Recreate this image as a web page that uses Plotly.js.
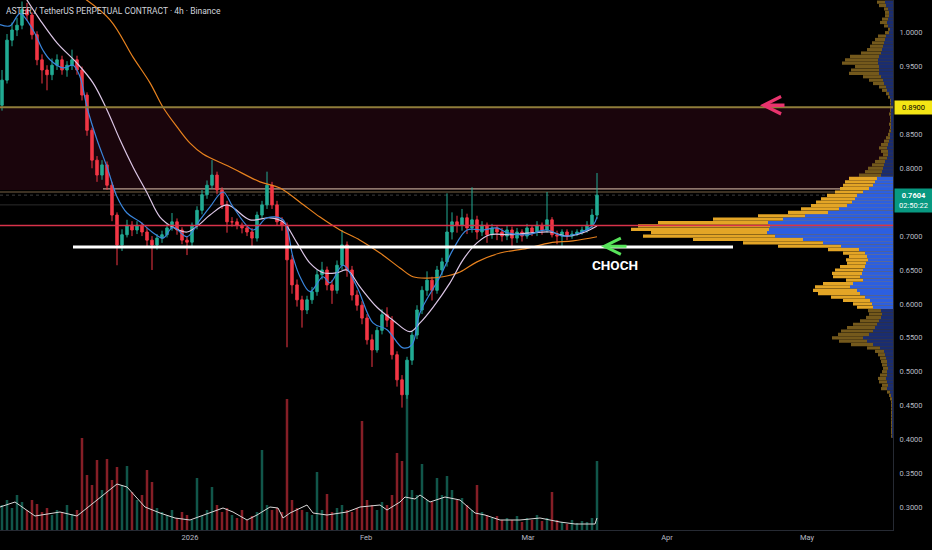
<!DOCTYPE html>
<html><head><meta charset="utf-8">
<script src="https://cdn.plot.ly/plotly-3.0.1.min.js"></script>
<style>html,body{margin:0;padding:0;background:#000;}#chart{width:932px;height:550px;}</style>
</head><body><div id="chart"></div>
<script>
// ---- Candles (4h ASTER/USDT, sampled) ----
const opens = [0.893,0.930,0.989,1.004,1.011,1.034,1.026,0.997,0.960,0.945,
 0.938,0.952,0.960,0.945,0.952,0.960,0.945,0.908,0.856,0.812,
 0.790,0.805,0.775,0.731,0.687,0.702,0.716,0.709,0.716,0.706,
 0.694,0.687,0.697,0.702,0.712,0.721,0.709,0.694,0.691,0.716,
 0.738,0.761,0.775,0.790,0.768,0.746,0.721,0.721,0.716,0.712,
 0.706,0.697,0.731,0.746,0.775,0.746,0.721,0.716,0.665,0.628,
 0.606,0.591,0.606,0.618,0.643,0.650,0.628,0.620,0.657,0.687,
 0.650,0.613,0.598,0.579,0.547,0.532,0.561,0.584,0.576,0.525,
 0.488,0.466,0.517,0.554,0.591,0.620,0.635,0.620,0.650,0.662,
 0.706,0.721,0.716,0.727,0.712,0.724,0.706,0.716,0.702,0.712,
 0.706,0.700,0.709,0.697,0.706,0.700,0.712,0.706,0.716,0.709,
 0.724,0.702,0.700,0.706,0.700,0.703,0.706,0.709,0.716,0.731];
const highs = [0.945,0.998,1.015,1.022,1.046,1.044,1.030,1.002,0.968,0.952,
 0.962,0.968,0.966,0.958,0.975,0.966,0.950,0.912,0.860,0.818,
 0.812,0.810,0.780,0.735,0.710,0.724,0.722,0.722,0.720,0.712,
 0.700,0.703,0.708,0.718,0.734,0.726,0.713,0.700,0.720,0.744,
 0.768,0.782,0.812,0.795,0.772,0.752,0.728,0.726,0.720,0.716,
 0.712,0.736,0.752,0.795,0.780,0.752,0.728,0.720,0.672,0.636,
 0.612,0.612,0.625,0.650,0.662,0.655,0.635,0.664,0.709,0.692,
 0.656,0.620,0.604,0.585,0.555,0.566,0.592,0.595,0.582,0.530,
 0.495,0.522,0.560,0.598,0.626,0.648,0.640,0.656,0.668,0.763,
 0.735,0.730,0.740,0.733,0.772,0.730,0.722,0.720,0.718,0.716,
 0.712,0.715,0.714,0.712,0.710,0.718,0.716,0.722,0.720,0.765,
 0.728,0.708,0.710,0.710,0.708,0.710,0.714,0.722,0.740,0.793];
const lows = [0.885,0.925,0.980,0.995,1.005,1.018,0.990,0.952,0.925,0.915,
 0.930,0.945,0.938,0.935,0.945,0.938,0.900,0.848,0.800,0.780,
 0.783,0.768,0.722,0.657,0.678,0.698,0.700,0.703,0.700,0.685,
 0.650,0.680,0.690,0.698,0.708,0.702,0.688,0.672,0.685,0.710,
 0.732,0.755,0.770,0.762,0.740,0.705,0.714,0.710,0.704,0.700,
 0.684,0.692,0.725,0.740,0.740,0.715,0.708,0.536,0.615,0.596,
 0.565,0.585,0.600,0.612,0.636,0.620,0.600,0.615,0.650,0.640,
 0.605,0.590,0.570,0.540,0.507,0.528,0.555,0.566,0.518,0.478,
 0.447,0.460,0.510,0.548,0.585,0.612,0.605,0.615,0.642,0.655,
 0.695,0.705,0.708,0.703,0.705,0.695,0.700,0.690,0.696,0.694,
 0.692,0.694,0.682,0.690,0.692,0.696,0.700,0.700,0.702,0.705,
 0.698,0.688,0.685,0.694,0.696,0.700,0.702,0.705,0.712,0.725];
const closes = [0.930,0.989,1.004,1.011,1.034,1.026,0.997,0.960,0.945,0.938,
 0.952,0.960,0.945,0.952,0.960,0.945,0.908,0.856,0.812,0.790,
 0.805,0.775,0.731,0.687,0.702,0.716,0.709,0.716,0.706,0.694,
 0.687,0.697,0.702,0.712,0.721,0.709,0.694,0.691,0.716,0.738,
 0.761,0.775,0.790,0.768,0.746,0.721,0.721,0.716,0.712,0.706,
 0.697,0.731,0.746,0.775,0.746,0.721,0.716,0.665,0.628,0.606,
 0.591,0.606,0.618,0.643,0.650,0.628,0.620,0.657,0.687,0.650,
 0.613,0.598,0.579,0.547,0.532,0.561,0.584,0.576,0.525,0.488,
 0.466,0.517,0.554,0.591,0.620,0.635,0.620,0.650,0.662,0.706,
 0.721,0.716,0.727,0.712,0.724,0.706,0.716,0.702,0.712,0.706,
 0.700,0.709,0.697,0.706,0.700,0.712,0.706,0.716,0.709,0.724,
 0.702,0.700,0.706,0.700,0.703,0.706,0.709,0.716,0.731,0.7604];
// volume (millions)
const volumes = [2.5,3.0,2.2,3.5,2.8,2.0,3.0,2.6,1.8,2.2,
 1.5,2.0,1.8,2.5,1.6,2.0,9.2,5.5,4.5,7.0,
 4.0,7.1,5.0,6.3,4.5,6.4,3.8,3.0,3.5,6.0,
 4.8,2.2,1.8,1.5,2.0,1.2,1.8,1.5,1.0,5.2,
 1.4,2.0,4.3,2.5,1.8,2.2,1.5,1.2,2.0,1.0,
 1.4,1.8,8.0,2.5,2.0,2.2,1.8,13.1,3.0,2.2,
 2.0,1.8,1.5,5.8,2.0,3.6,1.8,2.2,2.5,2.0,
 1.8,2.2,10.9,3.0,2.5,2.0,2.8,2.5,3.5,7.7,
 6.9,15.0,4.0,3.5,6.6,3.0,2.8,5.2,3.5,5.4,
 4.0,3.0,3.2,2.5,2.0,4.5,1.8,1.5,1.2,1.4,
 1.0,1.2,1.0,1.4,0.8,1.2,1.0,1.5,0.9,1.2,
 3.8,1.0,0.8,0.6,1.0,0.7,0.9,0.8,1.2,6.9];

// ---- Moving averages (bar-index position, value) ----
const maFastPos = [-0.4,1.6,3.6,6.2,8.2,9.6,12.2,14.2,15.6,17.0,19.0,21.0,23.0,25.0,27.6,30.2,32.2,34.2,37.0,39.6,41.6,44.2,46.2,50.2,53.0,56.2,58.2,59.6,61.6,64.2,65.6,68.2,71.0,74.2,77.0,80.2,82.0,83.6,87.6,90.2,93.0,96.2,99.0,101.0,105.0,109.0,112.2,115.6,118.2,119.0];
const maFastVal = [1.012,1.010,1.028,1.004,0.974,0.960,0.948,0.952,0.935,0.890,0.842,0.802,0.758,0.734,0.721,0.705,0.697,0.713,0.699,0.724,0.743,0.765,0.743,0.709,0.727,0.724,0.669,0.640,0.618,0.640,0.631,0.657,0.625,0.572,0.562,0.535,0.540,0.587,0.640,0.680,0.709,0.709,0.712,0.705,0.702,0.709,0.700,0.705,0.716,0.728];
const maMidPos = [4.4,7.6,11.0,15.0,18.2,21.0,23.6,26.2,29.0,31.6,34.2,37.0,39.6,41.6,45.0,49.6,53.6,56.2,59.0,61.6,64.2,67.0,69.0,71.6,75.0,78.2,81.6,83.6,86.2,89.6,92.2,95.0,97.6,101.6,106.2,109.6,113.0,116.2,119.0];
const maMidVal = [1.055,1.019,0.985,0.955,0.926,0.886,0.842,0.802,0.764,0.728,0.713,0.706,0.718,0.731,0.746,0.724,0.727,0.721,0.690,0.660,0.646,0.646,0.650,0.625,0.595,0.576,0.559,0.572,0.595,0.631,0.665,0.690,0.702,0.702,0.705,0.706,0.700,0.705,0.715];
const maSlowPos = [15.6,21.6,26.2,29.6,32.2,35.0,37.6,40.2,45.6,51.6,55.6,59.6,63.6,67.6,71.6,75.6,79.6,82.2,85.0,88.2,91.6,95.0,99.6,105.0,109.6,114.2,119.0];
const maSlowVal = [1.055,1.019,0.964,0.926,0.890,0.861,0.837,0.821,0.802,0.780,0.771,0.750,0.728,0.709,0.694,0.675,0.653,0.640,0.638,0.640,0.647,0.662,0.675,0.682,0.690,0.693,0.699];
const volMaPos = [-0.4,2.6,6.6,11.6,15.0,18.6,23.0,25.0,28.6,31.6,34.6,37.6,41.6,44.2,46.2,49.0,51.0,53.6,55.2,56.2,57.6,60.2,61.0,62.2,65.0,69.0,71.6,75.6,77.0,79.6,80.6,82.6,83.6,85.6,88.6,91.6,94.6,96.6,99.6,103.6,107.6,111.6,114.6,118.6,119.0];
const volMaVal = [2.3,2.8,1.4,1.8,1.4,2.8,4.6,4.3,2.3,1.7,1.2,1.0,1.7,2.2,1.8,1.0,1.5,2.3,2.2,1.2,1.7,2.3,2.5,1.7,1.5,1.8,2.3,2.5,2.0,2.8,3.3,3.1,3.5,2.8,3.3,3.0,1.7,1.5,1.0,1.0,1.2,0.8,0.6,0.6,1.2];

// ---- Volume profile (visible range) ----
const profilePrice = [1.045,1.040,1.035,1.030,1.025,1.020,1.015,1.010,1.005,1.000,
 0.995,0.990,0.985,0.980,0.975,0.970,0.965,0.960,0.955,0.950,
 0.945,0.940,0.935,0.930,0.925,0.920,0.915,0.910,0.905,0.900,
 0.895,0.890,0.885,0.880,0.875,0.870,0.865,0.860,0.855,0.850,
 0.845,0.840,0.835,0.830,0.825,0.820,0.815,0.810,0.805,0.800,
 0.795,0.790,0.785,0.780,0.775,0.770,0.765,0.760,0.755,0.750,
 0.745,0.740,0.735,0.730,0.725,0.720,0.715,0.710,0.705,0.700,
 0.695,0.690,0.685,0.680,0.675,0.670,0.665,0.660,0.655,0.650,
 0.645,0.640,0.635,0.630,0.625,0.620,0.615,0.610,0.605,0.600,
 0.595,0.590,0.585,0.580,0.575,0.570,0.565,0.560,0.555,0.550,
 0.545,0.540,0.535,0.530,0.525,0.520,0.515,0.510,0.505,0.500,
 0.495,0.490,0.485,0.480,0.475,0.470,0.465,0.460,0.455,0.450,
 0.445,0.440,0.435,0.430,0.425,0.420,0.415,0.410,0.405];
const profileTotal = [16,14,9,8,8,11,13,9,5,8,
 15,18,21,23,26,32,43,48,51,38,
 42,44,30,24,20,14,11,7,5,3,
 3,3,3,4,3,3,4,3,4,5,
 7,9,12,14,12,10,14,18,21,25,
 28,34,44,48,50,53,58,66,72,77,
 82,92,105,135,180,235,255,262,242,250,
 200,150,115,65,50,44,47,46,53,58,
 61,60,47,70,78,80,75,62,50,40,
 36,25,24,27,33,40,46,52,55,61,
 54,42,26,18,15,13,12,11,10,11,
 13,15,14,11,12,6,4,3,2,2,
 2,2,2,2,2,2,2,2,2];
const profileUp = [8,7,5,4,4,5,6,5,3,4,
 7,8,9,10,11,12,14,15,15,14,
 14,14,12,10,9,7,6,4,3,2,
 2,2,2,2,2,2,2,2,2,3,
 3,4,5,6,5,5,6,8,9,10,
 11,12,16,18,20,24,30,36,38,41,
 46,54,65,88,110,125,123,124,126,118,
 90,70,52,34,28,26,25,27,28,30,
 31,33,30,40,43,36,33,28,23,21,
 20,12,11,12,14,16,18,20,24,30,
 26,20,13,9,8,7,6,6,5,6,
 6,7,6,5,6,3,2,1,1,1,
 1,1,1,1,1,1,1,1,1];
const valueAreaLow = 0.592, valueAreaHigh = 0.786;

// ---- Levels & labels ----
const zoneTop = 0.890, zoneBottom = 0.768;
const redLevel = 0.7156;
const tanLevels = [0.7695, 0.765];
const greyLevel = 0.746;
const lastPrice = 0.7604;
const chochLevel = 0.684, chochStart = 14.2, chochEnd = 146.2;
const tickPos = [37.6, 72.8, 105.2, 133, 161];
const tickText = ['2026', 'Feb', 'Mar', 'Apr', 'May'];
// price-scale labels not covered by the two price tags
const priceTicks = [0.30,0.35,0.40,0.45,0.50,0.55,0.60,0.65,0.70,0.80,0.85,0.95,1.00];

const up = '#22ab94', down = '#f23645';
const barIdx = closes.map((_, i) => i);
const volColors = closes.map((c, i) => c >= opens[i] ? 'rgba(34,171,148,0.5)' : 'rgba(242,54,69,0.55)');
const inVA = p => p >= valueAreaLow && p <= valueAreaHigh;
const goldColors = profilePrice.map(p => inVA(p) ? '#e3a526' : '#74591c');
const blueColors = profilePrice.map(p => inVA(p) ? '#2c5fe0' : '#1a2d70');

const traces = [
  {type:'bar', orientation:'h', y:profilePrice, x:profileTotal, xaxis:'x2', yaxis:'y', width:0.0047,
   marker:{color:goldColors, line:{width:0}}, hoverinfo:'skip'},
  {type:'bar', orientation:'h', y:profilePrice, x:profileUp, xaxis:'x2', yaxis:'y', width:0.0047,
   marker:{color:blueColors, line:{width:0}}, hoverinfo:'skip'},
  {type:'bar', x:barIdx, y:volumes, yaxis:'y2', width:0.5, marker:{color:volColors, line:{width:0}}, hoverinfo:'skip'},
  {type:'scatter', mode:'lines', x:volMaPos, y:volMaVal, yaxis:'y2', line:{color:'#d8d8d8', width:1}, hoverinfo:'skip'},
  {type:'scatter', mode:'lines', x:maSlowPos, y:maSlowVal, line:{color:'#e8821e', width:1.2, shape:'spline'}, hoverinfo:'skip'},
  {type:'scatter', mode:'lines', x:maMidPos, y:maMidVal, line:{color:'#dcc6e6', width:1.2, shape:'spline'}, hoverinfo:'skip'},
  {type:'scatter', mode:'lines', x:maFastPos, y:maFastVal, line:{color:'#3a86dd', width:1.2, shape:'spline'}, hoverinfo:'skip'},
  {type:'candlestick', x:barIdx, open:opens, high:highs, low:lows, close:closes, whiskerwidth:0,
   increasing:{line:{color:up, width:1}, fillcolor:up},
   decreasing:{line:{color:down, width:1}, fillcolor:down}, hoverinfo:'skip'}
];

const axisFont = {family:'Roboto, sans-serif', size:7.5, color:'#b7bac2'};
const hline = (y, color, width, layer, dash, x0, x1) => ({
  type:'line', xref: x0 === undefined ? 'paper' : 'x', x0: x0 === undefined ? 0 : x0, x1: x1 === undefined ? 1 : x1,
  yref:'y', y0:y, y1:y, line:{color, width, dash: dash || 'solid'}, layer});

const layout = {
  width:932, height:550, margin:{l:0, r:39, t:0, b:20},
  paper_bgcolor:'#000', plot_bgcolor:'#000', showlegend:false, barmode:'overlay', dragmode:false,
  xaxis:{range:[-0.4, 178.2], tickvals:tickPos, ticktext:tickText, showgrid:false, zeroline:false,
    tickfont:axisFont, ticks:'', showline:true, linecolor:'#262a33', linewidth:1, rangeslider:{visible:false}, fixedrange:true},
  xaxis2:{overlaying:'x', range:[893, 0], visible:false, fixedrange:true},
  yaxis:{side:'right', range:[0.2665, 1.0482], tickvals:priceTicks, tickformat:'.4f', showgrid:false, zeroline:false,
    tickfont:axisFont, ticks:'', showline:true, linecolor:'#262a33', linewidth:1, fixedrange:true, ticklabelstandoff:4},
  yaxis2:{overlaying:'y', range:[0, 53], visible:false, fixedrange:true},
  shapes:[
    {type:'rect', xref:'paper', x0:0, x1:1, yref:'y', y0:zoneBottom, y1:zoneTop, fillcolor:'#1a050c', line:{width:0}, layer:'below'},
    hline(tanLevels[0], '#b49c8c', 1.2, 'below', 'solid', 20.2, 178.2),
    hline(tanLevels[1], '#7a6446', 1, 'below'),
    hline(lastPrice, '#3d3d3d', 1, 'below', 'dot'),
    hline(greyLevel, '#2c2c2c', 1, 'below'),
    hline(zoneTop, '#8f7d3a', 2, 'above'),
    hline(redLevel, '#d8324a', 1.3, 'above'),
    hline(chochLevel, '#ffffff', 3, 'above', 'solid', chochStart, chochEnd)
  ],
  annotations:[
    {xref:'paper', yref:'paper', x:0, y:1, xanchor:'left', yanchor:'top', xshift:4, yshift:-4, showarrow:false,
     text:'ASTER / TetherUS PERPETUAL CONTRACT · 4h · Binance', font:{family:'Roboto, sans-serif', size:8.5, color:'#d1d4dc'}},
    {xref:'paper', yref:'y', x:1, y:zoneTop, xanchor:'left', yanchor:'middle', xshift:1, showarrow:false,
     text:zoneTop.toFixed(4), bgcolor:'#f4e515', width:33, borderpad:2, font:{family:'Roboto, sans-serif', size:7.5, color:'#000'}},
    {xref:'paper', yref:'y', x:1, y:lastPrice, xanchor:'left', yanchor:'top', xshift:1, yshift:7, showarrow:false,
     text:'<b>' + lastPrice.toFixed(4) + '</b><br>02:50:22', bgcolor:'#089981', width:33, borderpad:2, align:'center',
     font:{family:'Roboto, sans-serif', size:7.5, color:'#ffffff'}},
    {xref:'x', yref:'y', x:122.6, y:0.657, showarrow:false, text:'<b>CHOCH</b>',
     font:{family:'Roboto, sans-serif', size:13.5, color:'#ffffff'}},
    {xref:'x', yref:'y', x:151.6, y:0.893, ax:26, ay:0, text:'', showarrow:true, arrowhead:5, arrowsize:1,
     arrowwidth:3.4, arrowcolor:'#e8336d', standoff:0},
    {xref:'x', yref:'y', x:119.8, y:0.685, ax:27, ay:0, text:'', showarrow:true, arrowhead:5, arrowsize:1,
     arrowwidth:3.2, arrowcolor:'#57e35a', standoff:0}
  ]
};

Plotly.newPlot('chart', traces, layout, {displayModeBar:false, staticPlot:true});
</script></body></html>
